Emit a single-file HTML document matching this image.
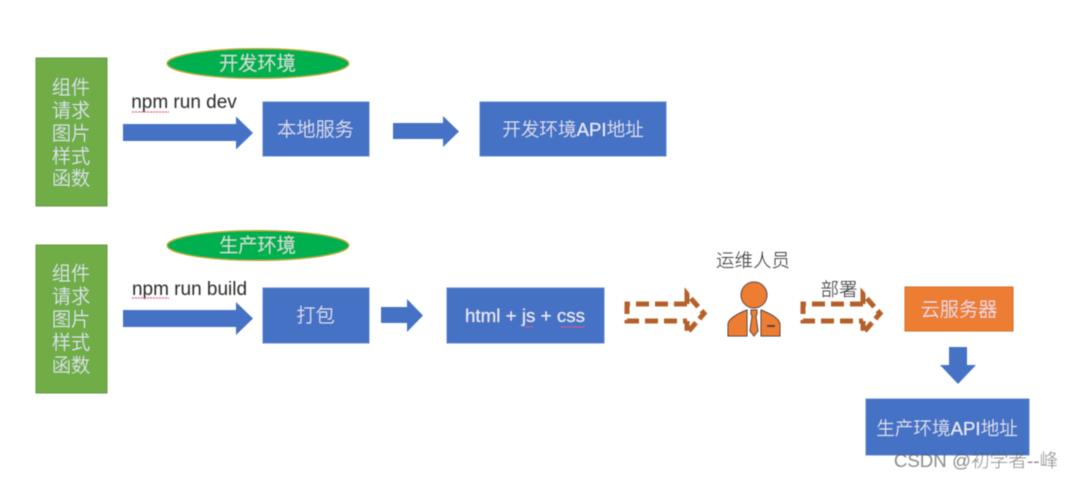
<!DOCTYPE html>
<html><head><meta charset="utf-8">
<style>
html,body{margin:0;padding:0;background:#fff;width:1073px;height:479px;overflow:hidden}
svg{display:block}
text{font-family:"Liberation Sans","Noto Sans CJK SC",sans-serif;font-size:19.2px;text-anchor:middle;font-weight:300}
.w{fill:#e9eef7}
.d{fill:#2a2a2a}
.b{fill:#4472c4;stroke:#5b84cc;stroke-width:1}
.dash{fill:none;stroke:#b5602a;stroke-width:5;stroke-dasharray:13 6}
.sq{fill:none;stroke:#e0405a;stroke-width:1;stroke-dasharray:2 1}
</style></head><body>
<svg width="1073" height="479" viewBox="0 0 1073 479" xmlns="http://www.w3.org/2000/svg">
<defs><filter id="s" x="-2%" y="-2%" width="104%" height="104%"><feGaussianBlur stdDeviation="0.5"/></filter></defs>
<g filter="url(#s)">
<rect x="36" y="58" width="71" height="148" fill="#70ad47" stroke="#5f9a3c"/>
<rect x="36" y="245" width="71" height="148" fill="#70ad47" stroke="#5f9a3c"/>
<g class="w">
<text x="71" y="94">组件</text><text x="71" y="117">请求</text><text x="71" y="140">图片</text><text x="71" y="163">样式</text><text x="71" y="185">函数</text>
<text x="71" y="280">组件</text><text x="71" y="303">请求</text><text x="71" y="326">图片</text><text x="71" y="349">样式</text><text x="71" y="372">函数</text>
</g>
<ellipse cx="258" cy="63.500" rx="91" ry="15" fill="#00b050" stroke="#c9a227"/>
<ellipse cx="258" cy="245.500" rx="91" ry="15" fill="#00b050" stroke="#c9a227"/>
<text class="w" x="257.500" y="70">开发环境</text>
<text class="w" x="257.500" y="252">生产环境</text>

<text class="d" x="184" y="108" style="font-size:19px">npm run dev</text>
<path class="sq" d="M132 112h37"/>
<text class="d" x="189.500" y="295" style="font-size:19px">npm run build</text>
<path class="sq" d="M132 298h37"/>

<path fill="#4472c4" d="M123 124H236V116.500L253 133L236 149.500V141H123Z"/>
<path fill="#4472c4" d="M393 123H443V116L459 131.500L443 147V139H393Z"/>
<path fill="#4472c4" d="M123 310H236V302L253 318.500L236 335V327H123Z"/>
<path fill="#4472c4" d="M381 307H407V299L423 315.500L407 332V323H381Z"/>
<path fill="#4472c4" d="M949 347H967V365H976L958 384L940 365H949Z"/>

<rect class="b" x="263" y="102" width="106" height="54"/>
<rect class="b" x="480" y="102" width="186" height="54"/>
<rect class="b" x="263" y="288" width="106" height="55"/>
<rect class="b" x="447" y="288" width="157" height="55"/>
<rect x="905" y="287" width="108" height="44" fill="#ed7d31" stroke="#d06a25"/>
<rect class="b" x="866" y="399" width="163" height="56"/>

<text class="w" x="315.500" y="136">本地服务</text>
<text class="w" x="573" y="136" style="font-size:18.600px">开发环境API地址</text>
<text class="w" x="315.500" y="322">打包</text>
<text class="w" x="525" y="322" style="font-size:18.800px">html + js + css</text>
<path class="sq" d="M525 327h9M561 327h24"/>
<text class="w" x="959" y="316">云服务器</text>
<text class="w" x="947" y="435" style="font-size:18.600px">生产环境API地址</text>

<path class="dash" d="M687 304H627V321H687"/>
<path class="dash" style="stroke-dasharray:11 5" d="M687 304V294L704 313.500L687 333V321"/>
<path class="dash" d="M863 304H803V321H863"/>
<path class="dash" style="stroke-dasharray:11 5" d="M863 304V294L880 313.500L863 333V321"/>

<text class="d" x="753" y="267" style="font-size:18.500px">运维人员</text>
<text class="d" x="839" y="296" style="font-size:18.500px">部署</text>

<circle cx="754" cy="295" r="13" fill="#ed7d31" stroke="#3a3a3a" stroke-width="1"/>
<path fill="#ed7d31" stroke="#3a3a3a" stroke-width="1" d="M728 336V324Q729 317 747 310V336Z"/>
<path fill="#ed7d31" stroke="#3a3a3a" stroke-width="1" d="M780 336V324Q779 317 761 310V336Z"/>
<path fill="#ed7d31" stroke="#3a3a3a" stroke-width="1" d="M751 310H757V314L756 316L758 331L754 336L750 331L752 316L751 314Z"/>
<rect x="767" y="325" width="8" height="2" fill="#3a3a3a"/>

<text x="976" y="467" style="font-size:18.700px;fill:rgba(90,90,90,.7)">CSDN @初学者--峰</text>
</g>
</svg>
</body></html>
